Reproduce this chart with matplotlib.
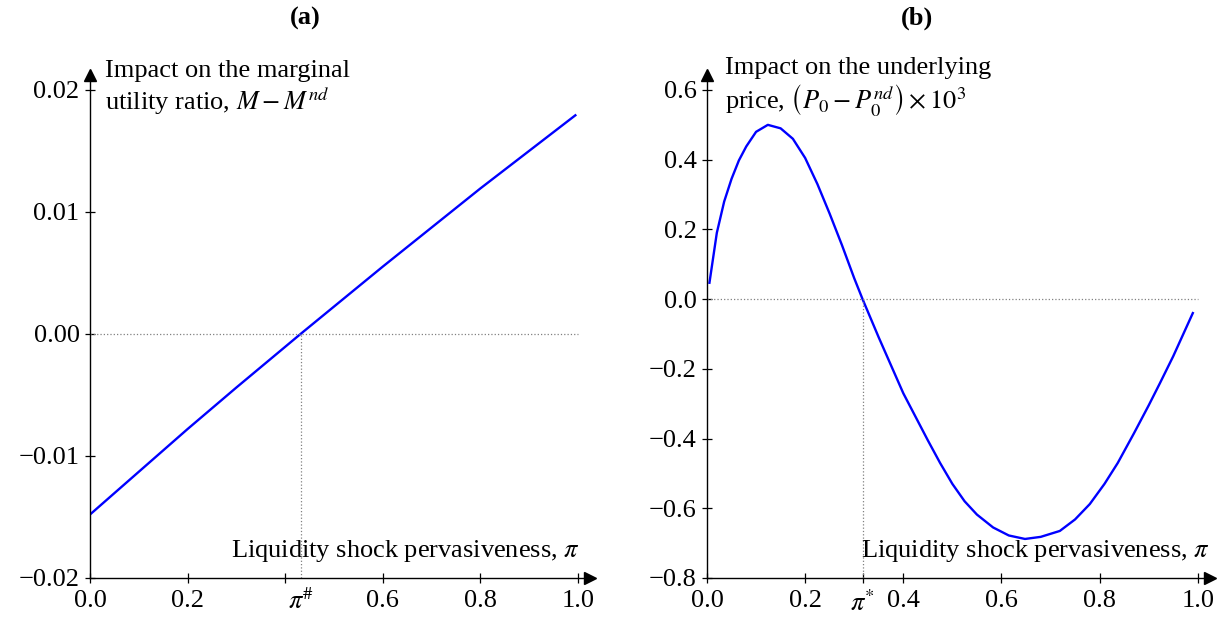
import matplotlib
matplotlib.use("Agg")
import matplotlib.pyplot as plt

plt.rcParams["font.family"] = ["Liberation Serif", "DejaVu Serif"]
plt.rcParams["mathtext.fontset"] = "stix"
plt.rcParams["font.size"] = 19

# ---- data ----
pi_a = [0.0, 0.1, 0.2, 0.3, 0.432, 0.6, 0.8, 0.995]
m_diff = [-0.0148, -0.0113, -0.0078, -0.0044, 0.0, 0.0055, 0.0119, 0.0179]
pi_hash = 0.432

pi_b = [0.005, 0.02, 0.035, 0.05, 0.065, 0.08, 0.1, 0.124, 0.15, 0.175,
        0.2, 0.225, 0.25, 0.275, 0.3, 0.317, 0.35, 0.4, 0.45, 0.475,
        0.5, 0.525, 0.55, 0.583, 0.615, 0.648, 0.68, 0.719, 0.75, 0.78,
        0.81, 0.837, 0.87, 0.9, 0.923, 0.95, 0.99]
p_diff = [0.047, 0.19, 0.28, 0.345, 0.398, 0.438, 0.48, 0.50, 0.49, 0.46,
          0.405, 0.33, 0.245, 0.155, 0.06, 0.0, -0.11, -0.27, -0.405, -0.47,
          -0.53, -0.58, -0.618, -0.655, -0.678, -0.688, -0.682, -0.665, -0.632, -0.588,
          -0.53, -0.47, -0.385, -0.305, -0.241, -0.164, -0.04]
pi_star = 0.317

xticks_a = [0.0, 0.2, 0.4, 0.6, 0.8, 1.0]
xlabels_a = ["0.0", "0.2", "", "0.6", "0.8", "1.0"]
yticks_a = [-0.02, -0.01, 0.0, 0.01, 0.02]
ylabels_a = ["\u22120.02", "\u22120.01", "0.00", "0.01", "0.02"]

xticks_b = [0.0, 0.2, pi_star, 0.4, 0.6, 0.8, 1.0]
xlabels_b = ["0.0", "0.2", r"$\pi^{*}$", "0.4", "0.6", "0.8", "1.0"]
yticks_b = [-0.8, -0.6, -0.4, -0.2, 0.0, 0.2, 0.4, 0.6]
ylabels_b = ["\u22120.8", "\u22120.6", "\u22120.4", "\u22120.2", "0.0", "0.2", "0.4", "0.6"]

fig = plt.figure(figsize=(12.25, 6.21), dpi=100)
ax1 = fig.add_axes([90 / 1225, 43 / 621, 500 / 1225, 503 / 621])
ax2 = fig.add_axes([707 / 1225, 43 / 621, 503 / 1225, 503 / 621])


def style_axis(ax):
    for s in ["top", "right"]:
        ax.spines[s].set_visible(False)
    ax.spines["left"].set_linewidth(1.0)
    ax.spines["bottom"].set_linewidth(1.0)
    ax.tick_params(direction="inout", length=7, width=0.9)
    ax.tick_params(axis="x", pad=5)
    ax.tick_params(axis="y", pad=4)
    # arrow heads at the ends of the axes
    ax.plot(1, 0, ">k", ms=9, transform=ax.transAxes, clip_on=False)
    ax.plot(0, 1, "^k", ms=9, transform=ax.transAxes, clip_on=False)


# ---- (a) ----
ax1.plot(pi_a, m_diff, color="#0000ff", lw=1.7)
ax1.plot([0, 1.0], [0, 0], ls=":", color="gray", lw=0.9)
ax1.plot([pi_hash, pi_hash], [-0.02, 0], ls=":", color="gray", lw=0.9)
ax1.set_xlim(0, 1.025)
ax1.set_ylim(-0.02, 0.0212)
ax1.set_xticks(xticks_a)
ax1.set_xticklabels(xlabels_a)
ax1.set_yticks(yticks_a)
ax1.set_yticklabels(ylabels_a)
ax1.text(pi_hash, -0.02, r"$\pi^{\#}$", transform=ax1.get_xaxis_transform(),
         ha="center", va="top")
style_axis(ax1)
ax1.text(0.03, 1.03, "Impact on the marginal\nutility ratio, $M - M^{nd}$",
         transform=ax1.transAxes, ha="left", va="top", linespacing=1.1)
ax1.text(0.98, 0.054, r"Liquidity shock pervasiveness, $\pi$",
         transform=ax1.transAxes, ha="right", va="center")

# ---- (b) ----
ax2.plot(pi_b, p_diff, color="#0000ff", lw=1.7)
ax2.plot([0, 1.0], [0, 0], ls=":", color="gray", lw=0.9)
ax2.plot([pi_star, pi_star], [-0.8, 0], ls=":", color="gray", lw=0.9)
ax2.set_xlim(0, 1.025)
ax2.set_ylim(-0.8, 0.643)
ax2.set_xticks(xticks_b)
ax2.set_xticklabels(xlabels_b)
ax2.set_yticks(yticks_b)
ax2.set_yticklabels(ylabels_b)
style_axis(ax2)
ax2.text(0.036, 1.035,
         "Impact on the underlying\nprice, $\\left(P_0 - P_0^{nd}\\right) \\times 10^3$",
         transform=ax2.transAxes, ha="left", va="top", linespacing=1.1)
ax2.text(1.0, 0.054, r"Liquidity shock pervasiveness, $\pi$",
         transform=ax2.transAxes, ha="right", va="center")

fig.text(305 / 1225, 1 - 18 / 621, "(a)", ha="center", va="center", fontweight="bold")
fig.text(917 / 1225, 1 - 18 / 621, "(b)", ha="center", va="center", fontweight="bold")

fig.savefig("out.png", dpi=100)
